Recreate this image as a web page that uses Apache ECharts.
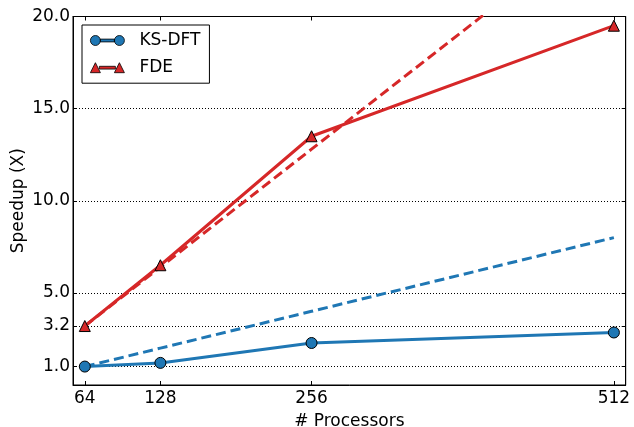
<!DOCTYPE html>
<html>
<head>
<meta charset="utf-8">
<script src="https://cdn.jsdelivr.net/npm/echarts@6/dist/echarts.min.js"></script>
<style>html,body{margin:0;padding:0;background:#fff;}#c{width:634px;height:427px;}</style>
</head>
<body>
<div id="c"></div>
<script>
var processors = [64, 128, 256, 512];
var ksdft = [1.0, 1.2, 2.28, 2.85];
var fde = [3.2, 6.5, 13.5, 19.5];
var ksdftIdeal = [1.0, 2.0, 4.0, 8.0];
var fdeIdeal = [3.2, 6.4, 12.8, 25.6];
var xTicks = [64, 128, 256, 512];
var yTicks = [1.0, 3.2, 5.0, 10.0, 15.0, 20.0];

function pairs(xs, ys) { return xs.map(function (x, i) { return [x, ys[i]]; }); }

var FONT = 'DejaVu Sans';
var FS = 17;
var blue = '#1f77b4', red = '#d62728';
var circIcon = 'path://M0,5 A5,5 0 1,1 10,5 A5,5 0 1,1 0,5 Z M10,3.6 L24,3.6 L24,6.4 L10,6.4 Z M24,5 A5,5 0 1,1 34,5 A5,5 0 1,1 24,5 Z';
var triIcon = 'path://M0,10 L5,0 L10,10 Z M9,3.6 L25,3.6 L25,6.4 L9,6.4 Z M24,10 L29,0 L34,10 Z';

var chart = echarts.init(document.getElementById('c'), null, {renderer: 'canvas'});
var axisCommon = {
  axisLine: {show: true, onZero: false, lineStyle: {color: '#000', width: 1}},
  axisTick: {show: true, inside: true, length: 4, lineStyle: {color: '#000', width: 1}}
};
chart.setOption({
  animation: false,
  backgroundColor: '#fff',
  textStyle: {fontFamily: FONT},
  grid: {left: 73, top: 16.5, right: 8.3, bottom: 42, show: true, borderColor: '#000', borderWidth: 1,
    containLabel: false, outerBoundsMode: 'none'},
  legend: {
    left: 82, top: 25, orient: 'vertical',
    data: [{name: 'KS-DFT', icon: circIcon}, {name: 'FDE', icon: triIcon}],
    itemWidth: 34, itemHeight: 10, itemGap: 10.2,
    padding: [7, 9, 7, 8],
    borderColor: '#000', borderWidth: 1, borderRadius: 0,
    backgroundColor: '#fff',
    itemStyle: {borderColor: '#000', borderWidth: 0.8},
    lineStyle: {type: 'solid'},
    textStyle: {fontFamily: FONT, fontSize: FS, color: '#000', lineHeight: 16.5, padding: [0, 0, 0, 10]}
  },
  xAxis: [{
    type: 'value', min: 54, max: 522, position: 'bottom',
    name: '# Processors', nameLocation: 'middle', nameGap: 28, nameMoveOverlap: false,
    nameTextStyle: {fontFamily: FONT, fontSize: FS, color: '#000'},
    axisLine: axisCommon.axisLine,
    axisTick: Object.assign({customValues: xTicks}, axisCommon.axisTick),
    axisLabel: {customValues: xTicks, fontFamily: FONT, fontSize: FS, color: '#000', margin: 5},
    splitLine: {show: false}
  }, {
    type: 'value', min: 54, max: 522, position: 'top',
    axisLine: axisCommon.axisLine,
    axisTick: Object.assign({customValues: xTicks}, axisCommon.axisTick),
    axisLabel: {show: false, customValues: xTicks},
    splitLine: {show: false}
  }],
  yAxis: [{
    type: 'value', min: 0, max: 20, position: 'left',
    name: 'Speedup (X)', nameLocation: 'middle', nameGap: 46, nameRotate: 90, nameMoveOverlap: false,
    nameTextStyle: {fontFamily: FONT, fontSize: FS, color: '#000'},
    axisLine: axisCommon.axisLine,
    axisTick: Object.assign({customValues: yTicks}, axisCommon.axisTick),
    axisLabel: {customValues: yTicks, fontFamily: FONT, fontSize: FS, color: '#000', margin: 3,
      formatter: function (v) { return Number(v).toFixed(1); }},
    splitLine: {show: true, lineStyle: {color: '#000', type: [1, 2], width: 1}}
  }, {
    type: 'value', min: 0, max: 20, position: 'right',
    axisLine: axisCommon.axisLine,
    axisTick: Object.assign({customValues: yTicks}, axisCommon.axisTick),
    axisLabel: {show: false, customValues: yTicks},
    splitLine: {show: false}
  }],
  series: [
    {name: 'KS-DFT ideal', type: 'line', data: pairs(processors, ksdftIdeal), showSymbol: false, symbol: 'none',
      lineStyle: {color: blue, width: 3, type: [10, 5]}, clip: true, z: 2, silent: true},
    {name: 'FDE ideal', type: 'line', data: pairs(processors, fdeIdeal), showSymbol: false, symbol: 'none',
      lineStyle: {color: red, width: 3, type: [10, 5]}, clip: true, z: 2, silent: true},
    {name: 'KS-DFT', type: 'line', data: pairs(processors, ksdft), symbol: 'circle', symbolSize: 11,
      lineStyle: {color: blue, width: 3}, itemStyle: {color: blue, borderColor: '#000', borderWidth: 1}, z: 3},
    {name: 'FDE', type: 'line', data: pairs(processors, fde), symbol: 'triangle', symbolSize: 11,
      lineStyle: {color: red, width: 3}, itemStyle: {color: red, borderColor: '#000', borderWidth: 1}, z: 3}
  ]
});
</script>
</body>
</html>
